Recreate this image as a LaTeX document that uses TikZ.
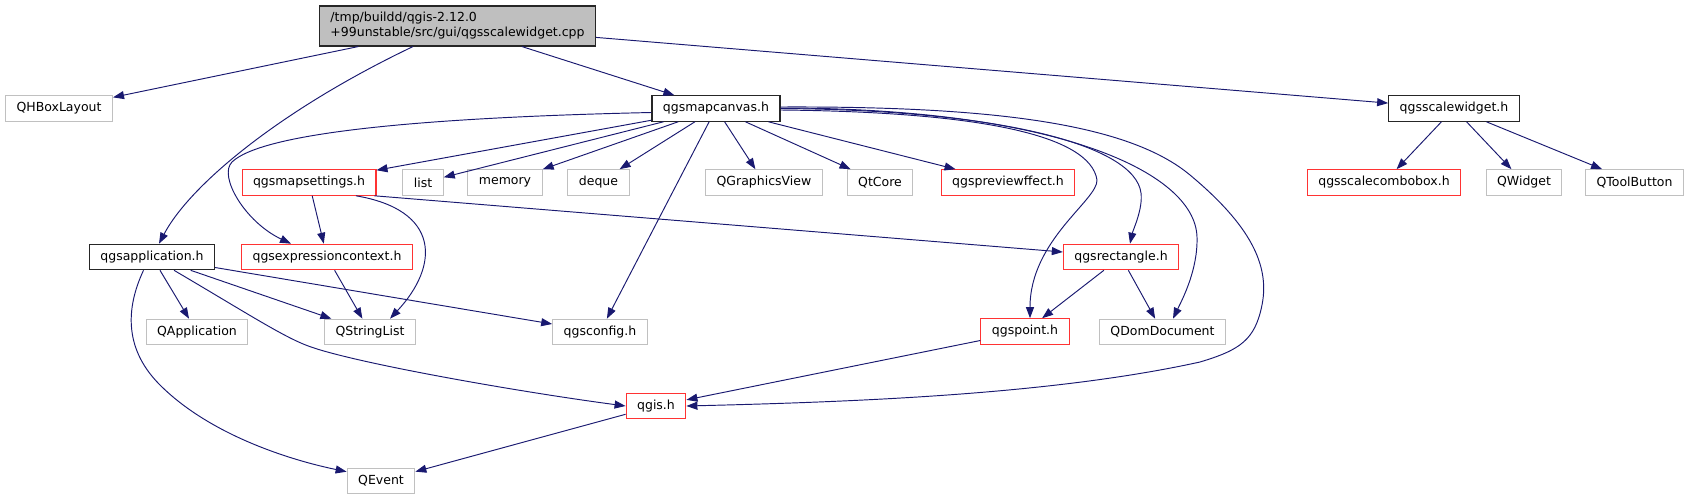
\documentclass[tikz,border=0pt]{standalone}
\usepackage{fontspec}
\setmainfont{DejaVu Sans}
\usetikzlibrary{arrows.meta}
\definecolor{edgeblue}{HTML}{191970}
\definecolor{gborder}{HTML}{C0C0C0}
\definecolor{rborder}{HTML}{FF3333}
\definecolor{rootfill}{HTML}{BFBFBF}
\begin{document}
\begin{tikzpicture}[x=1pt,y=-1pt,
  box/.style={draw, line width=1.1pt, minimum height=25.5pt, inner xsep=11pt, inner ysep=0pt,
    font=\fontsize{12.5}{15}\selectfont, fill=white},
  extbox/.style={box, draw=gborder},
  redbox/.style={box, draw=rborder},
  docbox/.style={box, draw=black!85},
  dep/.style={draw=edgeblue, line width=0.95pt, -{Triangle[length=11pt,width=8pt]}},
]
\useasboundingbox (0,0) rectangle (1689,500);

% nodes
\node[docbox, fill=rootfill, align=left, minimum height=40pt] (root) at (457.5,26)
  {/tmp/buildd/qgis-2.12.0\\+99unstable/src/gui/qgsscalewidget.cpp};
\node[extbox] (qhbox) at (59,108.5) {QHBoxLayout};
\node[docbox] (canvas) at (716,108.5) {qgsmapcanvas.h};
\node[docbox] (scalew) at (1454,108.5) {qgsscalewidget.h};

\node[redbox] (mapset) at (309,182.5) {qgsmapsettings.h};
\node[extbox] (list) at (423,182.5) {list};
\node[extbox] (memory) at (505,182.5) {memory};
\node[extbox] (deque) at (598.5,182.5) {deque};
\node[extbox] (qgv) at (764,182.5) {QGraphicsView};
\node[extbox] (qtcore) at (880,182.5) {QtCore};
\node[redbox] (preview) at (1008,182.5) {qgspreviewffect.h};
\node[redbox] (combo) at (1384,182.5) {qgsscalecombobox.h};
\node[extbox] (qwidget) at (1524,182.5) {QWidget};
\node[extbox] (qtool) at (1634.5,182.5) {QToolButton};

\node[docbox] (app) at (152,257) {qgsapplication.h};
\node[redbox] (expr) at (327,257) {qgsexpressioncontext.h};
\node[redbox] (rect) at (1121,257) {qgsrectangle.h};

\node[extbox] (qapp) at (197,332) {QApplication};
\node[extbox] (qsl) at (370,332) {QStringList};
\node[extbox] (config) at (600,332) {qgsconfig.h};
\node[redbox] (point) at (1025,331.5) {qgspoint.h};
\node[extbox] (qdom) at (1162.5,332) {QDomDocument};

\node[redbox] (qgis) at (656,406) {qgis.h};
\node[extbox] (qevent) at (381,481) {QEvent};

% edges from root
\draw[dep] (root) -- (qhbox);
\draw[dep] ([xshift=-44.5pt]root.south) .. controls (280,110) and (190,185) .. ([xshift=7pt]app.north);
\draw[dep] (root) -- (canvas);
\draw[dep] (root) -- (scalew);

% edges from qgsmapcanvas.h
\draw[dep] (canvas) -- (mapset);
\draw[dep] (canvas) -- (list);
\draw[dep] (canvas) -- (memory);
\draw[dep] (canvas) -- (deque);
\draw[dep] (canvas) -- (qgv);
\draw[dep] (canvas) -- (qtcore);
\draw[dep] (canvas) -- (preview);
\draw[dep] (canvas) -- (config);
\draw[dep] ([yshift=-4pt]canvas.west) .. controls (400,118) and (260,135) .. (232,162)
  .. controls (218,176) and (245,222) .. ([xshift=-36pt]expr.north);
\draw[dep] ([yshift=-1.5pt]canvas.east) .. controls (980,112) and (1090,135) .. (1097,180)
  .. controls (1098,200) and (1030,240) .. ([xshift=5pt]point.north);
\draw[dep] (canvas.east) .. controls (1000,110) and (1135,145) .. (1141,193)
  .. controls (1143,209) and (1133,230) .. ([xshift=9pt]rect.north);
\draw[dep] ([yshift=0.5pt]canvas.east) .. controls (1050,108) and (1195,170) .. (1197,237)
  .. controls (1198,270) and (1182,300) .. ([xshift=10.5pt]qdom.north);
\draw[dep] ([yshift=1.5pt]canvas.east) .. controls (1000,106) and (1130,125) .. (1190,175)
  .. controls (1250,225) and (1270,265) .. (1262,305)
  .. controls (1255,340) and (1240,350) .. (1200,362)
  .. controls (1050,395) and (850,402) .. (qgis.east);

% edges from qgsscalewidget.h
\draw[dep] (scalew) -- (combo);
\draw[dep] (scalew) -- (qwidget);
\draw[dep] (scalew) -- (qtool);

% edges from qgsmapsettings.h
\draw[dep] (mapset) -- (expr);
\draw[dep] ([xshift=47pt]mapset.south) .. controls (440,210) and (440,265) .. ([xshift=20pt]qsl.north);
\draw[dep] ([xshift=-2pt]mapset.south east) -- ([yshift=5pt]rect.west);

% edges from qgsexpressioncontext.h
\draw[dep] (expr) -- (qsl);

% edges from qgsapplication.h
\draw[dep] (app) -- (qapp);
\draw[dep] (app) -- (qsl);
\draw[dep] (app) -- (config);
\draw[dep] ([xshift=22pt]app.south) .. controls (250,315) and (285,338) .. (311,347)
  .. controls (360,364) and (520,392) .. (qgis.west);
\draw[dep] ([xshift=-8.5pt]app.south) .. controls (125,310) and (125,350) .. (160,385)
  .. controls (210,435) and (290,460) .. ([yshift=-4pt]qevent.north west);

% others
\draw[dep] (rect) -- (point);
\draw[dep] (rect) -- (qdom);
\draw[dep] (point) -- (qgis);
\draw[dep] (qgis) -- (qevent);
\end{tikzpicture}
\end{document}
